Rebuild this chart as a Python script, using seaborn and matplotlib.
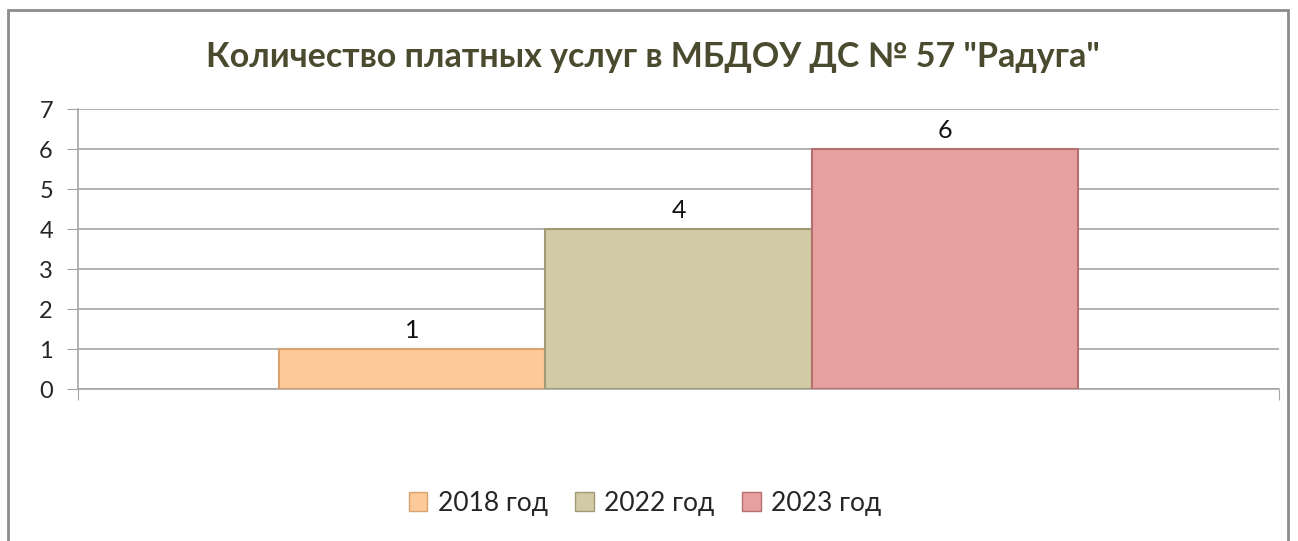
import numpy as np
import pandas as pd
import matplotlib
matplotlib.use('Agg')
import matplotlib.pyplot as plt
import seaborn as sns
from matplotlib.patches import Rectangle

# data
years = ['2018 год', '2022 год', '2023 год']
counts = [1, 4, 6]
colors = ['#FCCA98', '#D2CAA4', '#E6A09F']
edge_colors = ['#D9A26E', '#A19A76', '#B56F6E']
title = 'Количество платных услуг в МБДОУ ДС № 57 "Радуга"'

df = pd.DataFrame({'cat': [''] * 3, 'year': years, 'count': counts})

sns.set_style('white')
plt.rcParams['font.family'] = ['Lato', 'DejaVu Sans']

fig = plt.figure(figsize=(12.98, 5.41), dpi=100)
ax = fig.add_axes([78 / 1298, 152 / 541, (1279 - 78) / 1298, 280 / 541])

sns.barplot(data=df, x='cat', y='count', hue='year', palette=colors,
            saturation=1, width=0.666, ax=ax, legend=True, zorder=3)
for bar, ec in zip(ax.patches, edge_colors):
    bar.set_edgecolor(ec)
    bar.set_linewidth(1.5)

for c in ax.containers:
    ax.bar_label(c, fontsize=18, padding=5, color='#111111')

ax.set_xlim(-0.5, 0.5)
ax.set_ylim(0, 7)
ax.set_yticks(range(0, 8))
ax.yaxis.grid(True, color='#A6A6A6', linewidth=1.2, zorder=0)
ax.set_axisbelow(True)
for s in ['top', 'right']:
    ax.spines[s].set_visible(False)
ax.spines['left'].set_color('#A6A6A6')
ax.spines['bottom'].set_color('#A6A6A6')
ax.spines['left'].set_linewidth(1.2)
ax.spines['bottom'].set_linewidth(1.2)
ax.tick_params(axis='y', length=8, color='#A6A6A6', labelsize=17, pad=10, left=True)
ax.set_xticks([-0.5, 0.5])
ax.set_xticklabels(['', ''])
ax.tick_params(axis='x', length=8, color='#A6A6A6', bottom=True, direction='out')
ax.set_xlabel('')
ax.set_ylabel('')

handles, labels = ax.get_legend_handles_labels()
for h, ec in zip(handles, edge_colors):
    h.set_edgecolor(ec)
ax.get_legend().remove()
fig.legend(handles, labels, loc='center', bbox_to_anchor=(0.497, 1 - 503 / 541),
           ncol=3, frameon=False, fontsize=19, handlelength=0.7, handleheight=0.7,
           columnspacing=1.05, handletextpad=0.4)

fig.text(0.503, 1 - 57 / 541, title, ha='center', va='center', fontsize=24.5,
         fontweight='bold', color='#4A4A2E')

# outer chart frame
fig.patches.append(Rectangle((8 / 1298, -0.05), (1288 - 8) / 1298, 1.05 - 10 / 541,
                             transform=fig.transFigure, fill=False,
                             edgecolor='#8C8C8C', linewidth=2))

fig.savefig('out.png', dpi=100)
